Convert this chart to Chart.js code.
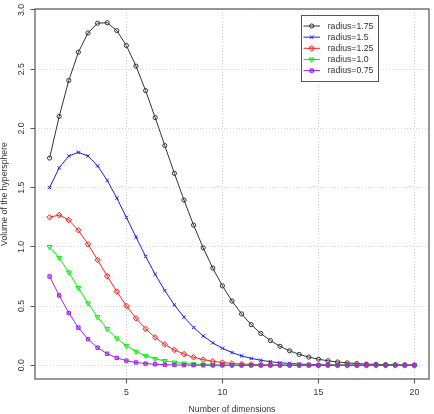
<!DOCTYPE html>
<html>
<head>
<meta charset="utf-8">
<script src="https://cdn.jsdelivr.net/npm/chart.js@4.4.1/dist/chart.umd.min.js"></script>
<style>
  html, body { margin: 0; padding: 0; background: #fff; }
  canvas { display: block; }
</style>
</head>
<body>
<canvas id="js_sphere_chart" width="434" height="414"></canvas>
<script>
// number of dimensions, steps of 0.5
const dimensions = [1, 1.5, 2, 2.5, 3, 3.5, 4, 4.5, 5, 5.5, 6, 6.5, 7, 7.5, 8, 8.5, 9, 9.5, 10,
  10.5, 11, 11.5, 12, 12.5, 13, 13.5, 14, 14.5, 15, 15.5, 16, 16.5, 17, 17.5, 18, 18.5, 19, 19.5, 20]

const radius175 = [1.75, 2.1015, 2.4053, 2.6438, 2.8062, 2.8884, 2.8927, 2.8262, 2.6998, 2.5263,
  2.3193, 2.0917, 1.8554, 1.6204, 1.3946, 1.1838, 0.9917, 0.8205, 0.6709, 0.5424,
  0.4337, 0.3432, 0.2689, 0.2087, 0.1605, 0.1223, 0.0924, 0.0692, 0.0515, 0.0380,
  0.0278, 0.0202, 0.0146, 0.0104, 0.0074, 0.0052, 0.0037, 0.0026, 0.0018]
const radius15 = [1.5, 1.6677, 1.7671, 1.7983, 1.7671, 1.6840, 1.5614, 1.4124, 1.2491, 1.0821,
  0.9197, 0.7680, 0.6307, 0.5099, 0.4063, 0.3193, 0.2477, 0.1897, 0.1436, 0.1075,
  0.0796, 0.0583, 0.0423, 0.0304, 0.0216, 0.0153, 0.0107, 0.0074, 0.0051, 0.0035,
  0.0024, 0.0016, 0.0011, 0.0007, 0.0005, 0.0003, 0.0002, 0.0001, 0.0001]
const radius125 = [1.25, 1.2686, 1.2272, 1.1400, 1.0227, 0.8896, 0.7530, 0.6218, 0.5020, 0.3970,
  0.3080, 0.2348, 0.1760, 0.1299, 0.0945, 0.0678, 0.0480, 0.0336, 0.0232, 0.0158,
  0.0107, 0.0072, 0.0047, 0.0031, 0.0020, 0.0013, 0.0008, 0.0005, 0.0003, 0.0002,
  0.0001, 0.0001, 0.00005, 0.00003, 0.00002, 0.00001, 0.000006, 0.000004, 0.000002]
const radius10 = [1, 0.9078, 0.7854, 0.6526, 0.5236, 0.4074, 0.3084, 0.2278, 0.1645, 0.1164,
  0.0807, 0.0550, 0.0369, 0.0244, 0.0159, 0.0102, 0.0064, 0.0040, 0.0025, 0.0015,
  0.0009, 0.0006, 0.0003, 0.0002, 0.0001, 0.00006, 0.00004, 0.00002, 0.00001, 0.000006,
  0.000004, 0.000002, 0.000001, 0.0000006, 0.0000003, 0.0000002, 0.00000009, 0.00000005, 0.00000002]
const radius075 = [0.75, 0.5896, 0.4418, 0.3179, 0.2209, 0.1488, 0.0976, 0.0624, 0.0390, 0.0239,
  0.0144, 0.0085, 0.0049, 0.0028, 0.0016, 0.0009, 0.0005, 0.0003, 0.0001, 0.00007,
  0.00004, 0.00002, 0.00001, 0.000005, 0.000002, 0.000001, 0.0000006, 0.0000003, 0.0000001, 0.00000005,
  0.00000002, 0.00000001, 0, 0, 0, 0, 0, 0, 0]

const seriesLabels = ['radius=1.75', 'radius=1.5', 'radius=1.25', 'radius=1.0', 'radius=0.75']
const xTickValues = [5, 10, 15, 20]
const yTickValues = [0, 0.5, 1, 1.5, 2, 2.5, 3]

const FONT = {family: "'Liberation Sans', Arial, sans-serif", size: 8.7}
const TEXT_COLOR = '#333'
const AXIS_COLOR = '#555'

Chart.defaults.font.family = FONT.family

function toPoints(values) {
  return dimensions.map((d, i) => ({x: d, y: values[i]}))
}

function lineSet(label, values, color, fill, style, radius, rotation, order) {
  return {
    label: label,
    data: toPoints(values),
    borderColor: color,
    backgroundColor: fill,
    borderWidth: 1,
    pointStyle: style,
    pointRadius: radius,
    pointRotation: rotation,
    pointBorderColor: color,
    pointBackgroundColor: fill,
    pointBorderWidth: 1,
    tension: 0,
    fill: false,
    order: order,
  }
}

const datasets = [
  lineSet(seriesLabels[0], radius175, '#333333', 'rgba(0,0,0,0)', 'circle', 2.1, 0, 5),
  lineSet(seriesLabels[1], radius15, '#1a1aff', 'rgba(0,0,0,0)', 'crossRot', 2.4, 0, 4),
  lineSet(seriesLabels[2], radius125, '#ff2020', 'rgba(255,0,0,0.15)', 'rectRot', 2.8, 0, 3),
  lineSet(seriesLabels[3], radius10, '#00ee00', 'rgba(0,255,0,0.15)', 'triangle', 2.8, 180, 2),
  lineSet(seriesLabels[4], radius075, '#a020f0', 'rgba(160,32,240,0.45)', 'rect', 2.4, 0, 1),
]

// R-like box around the plot region
const boxPlugin = {
  id: 'plotBox',
  afterDraw(chart) {
    const {ctx, chartArea: a} = chart
    ctx.save()
    ctx.strokeStyle = AXIS_COLOR
    ctx.lineWidth = 1.2
    ctx.strokeRect(a.left, a.top, a.right - a.left, a.bottom - a.top)
    ctx.restore()
  }
}

// legend with line + marker, like R's legend()
const legendPlugin = {
  id: 'rLegend',
  afterDraw(chart) {
    const ctx = chart.ctx
    const bx = 301.5, by = 15.5, bw = 77, bh = 66
    ctx.save()
    ctx.fillStyle = '#fff'
    ctx.fillRect(bx, by, bw, bh)
    ctx.strokeStyle = AXIS_COLOR
    ctx.lineWidth = 1
    ctx.strokeRect(bx, by, bw, bh)
    chart.data.datasets.forEach((ds, i) => {
      const y = 26 + i * 11.15
      ctx.strokeStyle = ds.borderColor
      ctx.lineWidth = 1
      ctx.beginPath()
      ctx.moveTo(303.5, y)
      ctx.lineTo(320, y)
      ctx.stroke()
      ctx.fillStyle = ds.pointBackgroundColor
      Chart.helpers.drawPoint(ctx, {
        pointStyle: ds.pointStyle,
        rotation: ds.pointRotation,
        radius: ds.pointRadius,
        borderWidth: 1,
      }, 311.7, y)
      ctx.fillStyle = TEXT_COLOR
      ctx.font = FONT.size + 'px ' + FONT.family
      ctx.textAlign = 'left'
      ctx.textBaseline = 'middle'
      ctx.fillText(ds.label, 327.7, y + 0.5)
    })
    ctx.restore()
  }
}

function sphereChart() {
  const config = {
    type: 'line',
    data: {datasets},
    options: {
      responsive: false,
      devicePixelRatio: 1,
      animation: false,
      layout: {padding: {left: 0, top: 9, right: 4, bottom: 0}},
      plugins: {
        legend: {display: false},
        tooltip: {enabled: false},
      },
      scales: {
        x: {
          type: 'linear',
          min: 0.24,
          max: 20.76,
          afterBuildTicks: scale => { scale.ticks = xTickValues.map(v => ({value: v})) },
          afterFit: scale => { scale.height = 35 },
          ticks: {
            autoSkip: false,
            maxRotation: 0,
            padding: 4,
            color: TEXT_COLOR,
            font: FONT,
            callback: v => String(v),
          },
          grid: {
            color: '#d3d3d3',
            lineWidth: 1,
            tickColor: AXIS_COLOR,
            tickLength: 4.5,
            tickWidth: 1,
          },
          border: {display: false, dash: [1, 2]},
          title: {
            display: true,
            text: 'Number of dimensions',
            color: TEXT_COLOR,
            font: {family: FONT.family, size: FONT.size, lineHeight: '8px'},
            padding: 0,
          },
        },
        y: {
          type: 'linear',
          min: -0.1157,
          max: 3.0084,
          afterBuildTicks: scale => { scale.ticks = yTickValues.map(v => ({value: v})) },
          afterFit: scale => { scale.width = 35 },
          ticks: {
            minRotation: 90,
            maxRotation: 90,
            crossAlign: 'center',
            padding: 2.6,
            color: TEXT_COLOR,
            font: FONT,
            callback: v => v.toFixed(1),
          },
          grid: {
            color: '#d3d3d3',
            lineWidth: 1,
            tickColor: AXIS_COLOR,
            tickLength: 4.5,
            tickWidth: 1,
          },
          border: {display: false, dash: [1, 2]},
          title: {
            display: true,
            text: 'Volume of the hypersphere',
            color: TEXT_COLOR,
            font: {family: FONT.family, size: FONT.size, lineHeight: '10px'},
            padding: 0,
          },
        },
      },
    },
    plugins: [boxPlugin, legendPlugin],
  }

  const ctx = document.getElementById('js_sphere_chart').getContext('2d')
  new Chart(ctx, config)
}

sphereChart()
</script>
</body>
</html>
